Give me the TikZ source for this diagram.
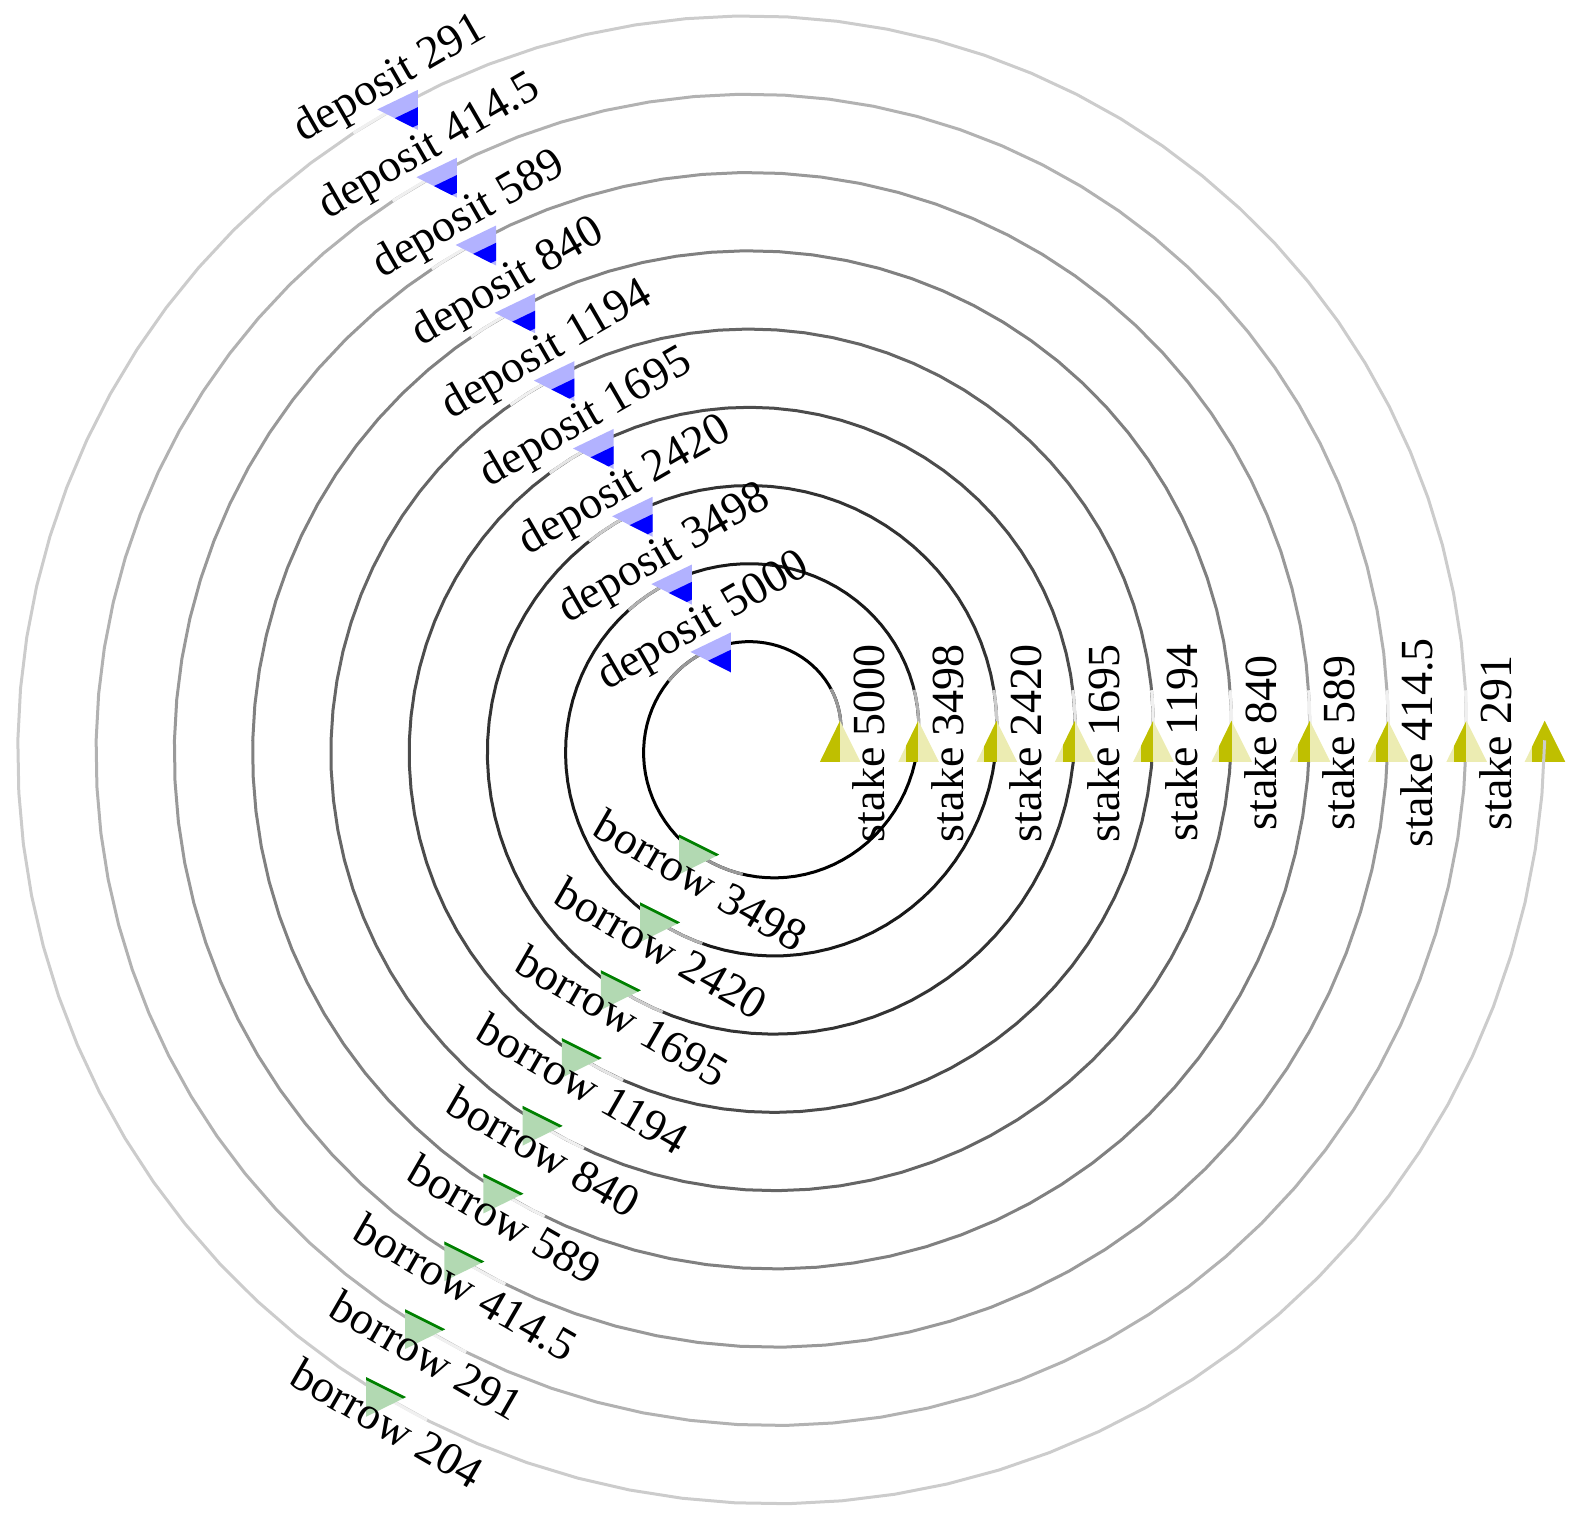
\documentclass[tikz,border=0pt]{standalone}
\usepackage{fontspec}
\setmainfont{Liberation Serif}
\usetikzlibrary{calc}
\definecolor{stakeD}{RGB}{191,191,0}
\definecolor{depD}{RGB}{0,0,255}
\definecolor{borD}{RGB}{0,128,0}
\colorlet{stakeL}{stakeD!30!white}
\colorlet{depL}{depD!30!white}
\colorlet{borL}{borD!30!white}
\begin{document}
\begin{tikzpicture}[x=1pt,y=1pt,
  lbl/.style={font=\fontsize{46}{50}\selectfont, inner sep=0pt, anchor=center},
  spir/.style={line width=3pt, line cap=butt, line join=round}]
\useasboundingbox (-761.7,-781.7) rectangle (815.3,740.3);
% spiral points
\foreach \j in {0,...,27} {
  \pgfmathsetmacro\ph{360+120*\j}
  \coordinate (n\j) at ({\ph}:{0.2175*\ph});
}
% final arrow head (under the last line)
\begin{scope}[shift={(n27)}]
  \fill[stakeL] (0,19.5) -- (20.5,-21.5) -- (-20,-21.5) -- cycle;
  \begin{scope}
    \clip (0,19.5) -- (20.5,-21.5) -- (-20,-21.5) -- cycle;
    \fill[stakeD] (-13,-25) rectangle (22,25);
  \end{scope}
\end{scope}
% spiral edges
\foreach \j in {0,...,26} {
  \pgfmathsetmacro\pa{360+120*\j}
  \pgfmathsetmacro\pb{\pa+120}
  \pgfmathtruncatemacro\wd{10*floor(\j/3)}
  \pgfmathtruncatemacro\wl{min(\wd+60,94)}
  \pgfmathsetmacro\dl{\pa+50/(0.2175*\pa)*57.2958}
  \draw[spir, color=white!\wd!black] plot[domain=\pa:\pb, samples=31, variable=\t] ({\t}:{0.2175*\t});
  \draw[spir, color=white!\wl!black] plot[domain=\pa:\dl, samples=8, variable=\t] ({\t}:{0.2175*\t});
}
% arrow heads
\foreach \j in {0,...,26} {
  \pgfmathtruncatemacro\typ{mod(\j,3)}
  \begin{scope}[shift={(n\j)}]
  \ifcase\typ
    \pgfmathsetmacro\xa{ifthenelse(\j==0,-21,-12.3)}
    \fill[stakeL] (0,19.5) -- (20.5,-21.5) -- (-20,-21.5) -- cycle;
    \begin{scope}
      \clip (0,19.5) -- (20.5,-21.5) -- (-20,-21.5) -- cycle;
      \fill[stakeD] (\xa,-25) rectangle (0,25);
    \end{scope}
  \or
    \pgfmathsetmacro\ob{ifthenelse(\j==1,60,35)}
    \fill[depL] (-19,-2) -- (21.5,17.5) -- (21.5,-22.5) -- cycle;
    \begin{scope}
      \clip (-19,-2) -- (21.5,17.5) -- (21.5,-22.5) -- cycle;
      \fill[depD] (-25,-22.19) -- (25,1.885) -- (25,{19.185-\ob}) -- (-25,{-4.89-\ob}) -- cycle;
    \end{scope}
  \or
    \fill[borL] (-17.2,18.7) -- (22.8,-1.3) -- (-17.2,-21) -- cycle;
    \begin{scope}
      \clip (-17.2,18.7) -- (22.8,-1.3) -- (-17.2,-21) -- cycle;
      \fill[borD] (-25,27.6) -- (30,0.1) -- (30,-7.9) -- (-25,19.6) -- cycle;
    \end{scope}
  \fi
  \end{scope}
}
% labels
\foreach \s/\b [count=\k from 0] in {5000/3498, 3498/2420, 2420/1695, 1695/1194, 1194/840, 840/589, 589/414.5, 414.5/291, 291/204} {
  \pgfmathtruncatemacro\js{3*\k}
  \pgfmathtruncatemacro\jd{3*\k+1}
  \pgfmathtruncatemacro\jb{3*\k+2}
  \node[lbl, rotate=90] (ls\k) at ($(n\js)+(29,-2.8)$) {stake \s};
  \node[lbl, rotate=30] (ld\k) at ($(n\jd)+(-5.5,27.6)$) {deposit \s};
  \node[lbl, rotate=-30] (lb\k) at ($(n\jb)+(4.1,-27.1)$) {borrow \b};
}
\end{tikzpicture}
\end{document}
